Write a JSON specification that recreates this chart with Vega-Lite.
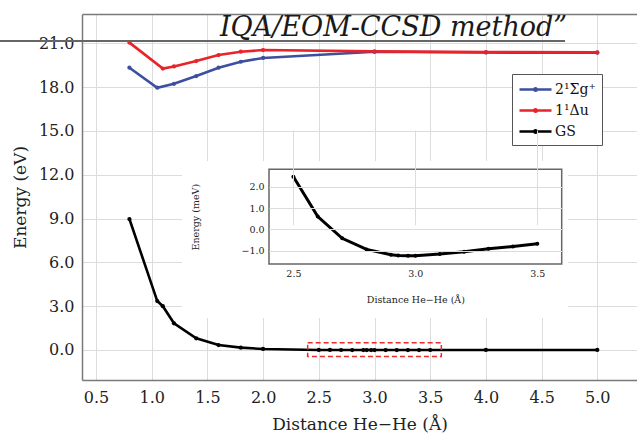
{
  "$schema": "https://vega.github.io/schema/vega-lite/v6.json",
  "width": 555,
  "height": 366,
  "autosize": {"type": "none"},
  "padding": {"left": 82, "top": 14, "right": 0, "bottom": 55},
  "background": "white",
  "config": {"view": {"stroke": null}, "font": "DejaVu Serif"},
  "title": {
    "text": "IQA/EOM-CCSD method”",
    "orient": "top",
    "anchor": "middle",
    "frame": "group",
    "baseline": "alphabetic",
    "offset": -17,
    "dy": 32,
    "dx": 34,
    "font": "DejaVu Serif",
    "fontStyle": "italic",
    "fontWeight": "normal",
    "fontSize": 27,
    "color": "#1a1a1a"
  },
  "datasets": {
    "main": [
      {"d": 0.8, "E": 19.33, "s": "2¹Σg⁺"},
      {"d": 1.05, "E": 17.96, "s": "2¹Σg⁺"},
      {"d": 1.2, "E": 18.23, "s": "2¹Σg⁺"},
      {"d": 1.4, "E": 18.76, "s": "2¹Σg⁺"},
      {"d": 1.6, "E": 19.33, "s": "2¹Σg⁺"},
      {"d": 1.8, "E": 19.74, "s": "2¹Σg⁺"},
      {"d": 2.0, "E": 20.0, "s": "2¹Σg⁺"},
      {"d": 3.0, "E": 20.42, "s": "2¹Σg⁺"},
      {"d": 4.0, "E": 20.37, "s": "2¹Σg⁺"},
      {"d": 5.0, "E": 20.36, "s": "2¹Σg⁺"},
      {"d": 0.8, "E": 21.05, "s": "1¹Δu"},
      {"d": 1.1, "E": 19.27, "s": "1¹Δu"},
      {"d": 1.2, "E": 19.42, "s": "1¹Δu"},
      {"d": 1.4, "E": 19.79, "s": "1¹Δu"},
      {"d": 1.6, "E": 20.2, "s": "1¹Δu"},
      {"d": 1.8, "E": 20.43, "s": "1¹Δu"},
      {"d": 2.0, "E": 20.54, "s": "1¹Δu"},
      {"d": 3.0, "E": 20.45, "s": "1¹Δu"},
      {"d": 4.0, "E": 20.4, "s": "1¹Δu"},
      {"d": 5.0, "E": 20.38, "s": "1¹Δu"},
      {"d": 0.8, "E": 8.97, "s": "GS"},
      {"d": 1.05, "E": 3.35, "s": "GS"},
      {"d": 1.1, "E": 3.0, "s": "GS"},
      {"d": 1.2, "E": 1.83, "s": "GS"},
      {"d": 1.4, "E": 0.8, "s": "GS"},
      {"d": 1.6, "E": 0.34, "s": "GS"},
      {"d": 1.8, "E": 0.16, "s": "GS"},
      {"d": 2.0, "E": 0.07, "s": "GS"},
      {"d": 2.5, "E": 0.0025, "s": "GS"},
      {"d": 2.6, "E": 0.0006, "s": "GS"},
      {"d": 2.7, "E": -0.0004, "s": "GS"},
      {"d": 2.8, "E": -0.0009, "s": "GS"},
      {"d": 2.9, "E": -0.0012, "s": "GS"},
      {"d": 2.93, "E": -0.0012, "s": "GS"},
      {"d": 2.97, "E": -0.0012, "s": "GS"},
      {"d": 3.0, "E": -0.0012, "s": "GS"},
      {"d": 3.1, "E": -0.0012, "s": "GS"},
      {"d": 3.2, "E": -0.0011, "s": "GS"},
      {"d": 3.3, "E": -0.0009, "s": "GS"},
      {"d": 3.4, "E": -0.0008, "s": "GS"},
      {"d": 3.5, "E": -0.0007, "s": "GS"},
      {"d": 4.0, "E": 0.0, "s": "GS"},
      {"d": 5.0, "E": 0.0, "s": "GS"}
    ],
    "inset": [
      {"d": 2.5, "E": 2.47},
      {"d": 2.6, "E": 0.6},
      {"d": 2.7, "E": -0.42},
      {"d": 2.8, "E": -0.94},
      {"d": 2.9, "E": -1.19},
      {"d": 2.93, "E": -1.22},
      {"d": 2.97, "E": -1.24},
      {"d": 3.0, "E": -1.24},
      {"d": 3.1, "E": -1.16},
      {"d": 3.2, "E": -1.05},
      {"d": 3.3, "E": -0.91},
      {"d": 3.4, "E": -0.8},
      {"d": 3.5, "E": -0.67}
    ]
  },
  "layer": [
    {
      "data": {"name": "main"},
      "mark": {"type": "line", "strokeWidth": 2.6, "point": {"filled": true, "size": 18}},
      "encoding": {
        "x": {
          "field": "d", "type": "quantitative",
          "scale": {"domain": [0.3743, 5.3563], "nice": false, "zero": false},
          "axis": {
            "orient": "bottom",
            "values": [0.5, 1.0, 1.5, 2.0, 2.5, 3.0, 3.5, 4.0, 4.5, 5.0],
            "format": ".1f", "grid": true, "gridColor": "#dcdcdc", "ticks": false,
            "domainColor": "#7a7a7a", "domainWidth": 1.5,
            "labelFont": "DejaVu Serif", "labelFontSize": 16, "labelPadding": 9, "labelColor": "#222",
            "title": "Distance He−He (Å)", "titleFont": "DejaVu Serif", "titleFontSize": 17,
            "titleFontWeight": "normal", "titleColor": "#222", "titlePadding": 11
          }
        },
        "y": {
          "field": "E", "type": "quantitative",
          "scale": {"domain": [-2.055, 23.01], "nice": false, "zero": false},
          "axis": {
            "orient": "left",
            "values": [0, 3, 6, 9, 12, 15, 18, 21],
            "format": ".1f", "grid": true, "gridColor": "#dcdcdc", "ticks": false,
            "domainColor": "#7a7a7a", "domainWidth": 1.5,
            "labelFont": "DejaVu Serif", "labelFontSize": 16, "labelPadding": 8, "labelColor": "#222",
            "title": "Energy (eV)", "titleFont": "DejaVu Serif", "titleFontSize": 17,
            "titleFontWeight": "normal", "titleColor": "#222", "titlePadding": 9
          }
        },
        "color": {
          "field": "s", "type": "nominal",
          "scale": {"domain": ["2¹Σg⁺", "1¹Δu", "GS"], "range": ["#3d4f9f", "#e8242a", "#000000"]},
          "legend": {
            "orient": "none", "legendX": 430, "legendY": 60, "title": null,
            "strokeColor": "#555", "fillColor": "white", "padding": 6,
            "labelFont": "DejaVu Serif", "labelFontSize": 14, "labelColor": "#111", "labelOffset": 18,
            "symbolType": "M-1,0H3M0.85,0A0.15,0.15 0 1,0 1.15,0A0.15,0.15 0 1,0 0.85,0",
            "symbolSize": 256, "symbolStrokeWidth": 2.6, "rowPadding": 4
          }
        }
      }
    },
    {
      "data": {"values": [{}]},
      "mark": {"type": "rule", "color": "#666", "strokeWidth": 2},
      "encoding": {
        "x": {"datum": -0.362, "type": "quantitative",
              "scale": {"domain": [0.3743, 5.3563], "nice": false, "zero": false}, "axis": null},
        "x2": {"datum": 4.71},
        "y": {"datum": 21.16, "type": "quantitative",
              "scale": {"domain": [-2.055, 23.01], "nice": false, "zero": false}, "axis": null}
      }
    },
    {
      "data": {"values": [{}]},
      "mark": {"type": "rect", "filled": false, "color": "#ee2a2a", "strokeWidth": 1.5, "strokeDash": [5, 3]},
      "encoding": {
        "x": {
          "datum": 2.4, "type": "quantitative",
          "scale": {"domain": [0.3743, 5.3563], "nice": false, "zero": false},
          "axis": {"orient": "top", "labels": false, "ticks": false, "grid": false, "domain": true,
                   "domainColor": "#7a7a7a", "domainWidth": 1.5, "title": null}
        },
        "x2": {"datum": 3.6},
        "y": {
          "datum": -0.45, "type": "quantitative",
          "scale": {"domain": [-2.055, 23.01], "nice": false, "zero": false},
          "axis": null
        },
        "y2": {"datum": 0.5}
      }
    },
    {
      "data": {"values": [{}]},
      "mark": {"type": "rect", "color": "white", "opacity": 1},
      "encoding": {
        "x": {"datum": 2.043, "type": "quantitative",
              "scale": {"domain": [2.4, 3.6], "range": [187, 479.7], "nice": false, "zero": false},
              "axis": null},
        "x2": {"datum": 3.626},
        "y": {"datum": -4.156, "type": "quantitative",
              "scale": {"domain": [-1.624, 2.816], "range": [250, 155.3], "nice": false, "zero": false},
              "axis": null},
        "y2": {"datum": 3.205}
      }
    },
    {
      "data": {"name": "inset"},
      "mark": {"type": "line", "color": "black", "strokeWidth": 3, "point": {"filled": true, "size": 16, "color": "black"}},
      "encoding": {
        "x": {
          "field": "d", "type": "quantitative",
          "scale": {"domain": [2.4, 3.6], "range": [187, 479.7], "nice": false, "zero": false},
          "axis": {
            "orient": "bottom", "offset": -116, "zindex": 1,
            "values": [2.5, 3.0, 3.5], "format": ".1f", "grid": true, "gridColor": "#dcdcdc",
            "ticks": false, "domain": false,
            "labelFont": "DejaVu Serif", "labelFontSize": 9.5, "labelPadding": 4, "labelColor": "#222",
            "title": "Distance He−He (Å)", "titleFont": "DejaVu Serif", "titleFontSize": 9.5,
            "titleFontWeight": "normal", "titleColor": "#222", "titlePadding": 17
          }
        },
        "y": {
          "field": "E", "type": "quantitative",
          "scale": {"domain": [-1.624, 2.816], "range": [250, 155.3], "nice": false, "zero": false},
          "axis": {
            "orient": "left", "offset": -187, "zindex": 1,
            "values": [-1, 0, 1, 2], "format": ".1f", "grid": true, "gridColor": "#dcdcdc",
            "ticks": false, "domain": false,
            "labelFont": "DejaVu Serif", "labelFontSize": 9.5, "labelPadding": 5, "labelColor": "#222",
            "title": "Energy (meV)", "titleFont": "DejaVu Serif", "titleFontSize": 9.5,
            "titleFontWeight": "normal", "titleColor": "#222", "titlePadding": 40
          }
        }
      }
    },
    {
      "data": {"values": [{}]},
      "mark": {"type": "rect", "filled": false, "color": "#666", "strokeWidth": 1.5},
      "encoding": {
        "x": {"datum": 2.4, "type": "quantitative",
              "scale": {"domain": [2.4, 3.6], "range": [187, 479.7], "nice": false, "zero": false},
              "axis": null},
        "x2": {"datum": 3.6},
        "y": {"datum": -1.624, "type": "quantitative",
              "scale": {"domain": [-1.624, 2.816], "range": [250, 155.3], "nice": false, "zero": false},
              "axis": null},
        "y2": {"datum": 2.816}
      }
    }
  ],
  "resolve": {"scale": {"x": "independent", "y": "independent", "color": "independent"}}
}
